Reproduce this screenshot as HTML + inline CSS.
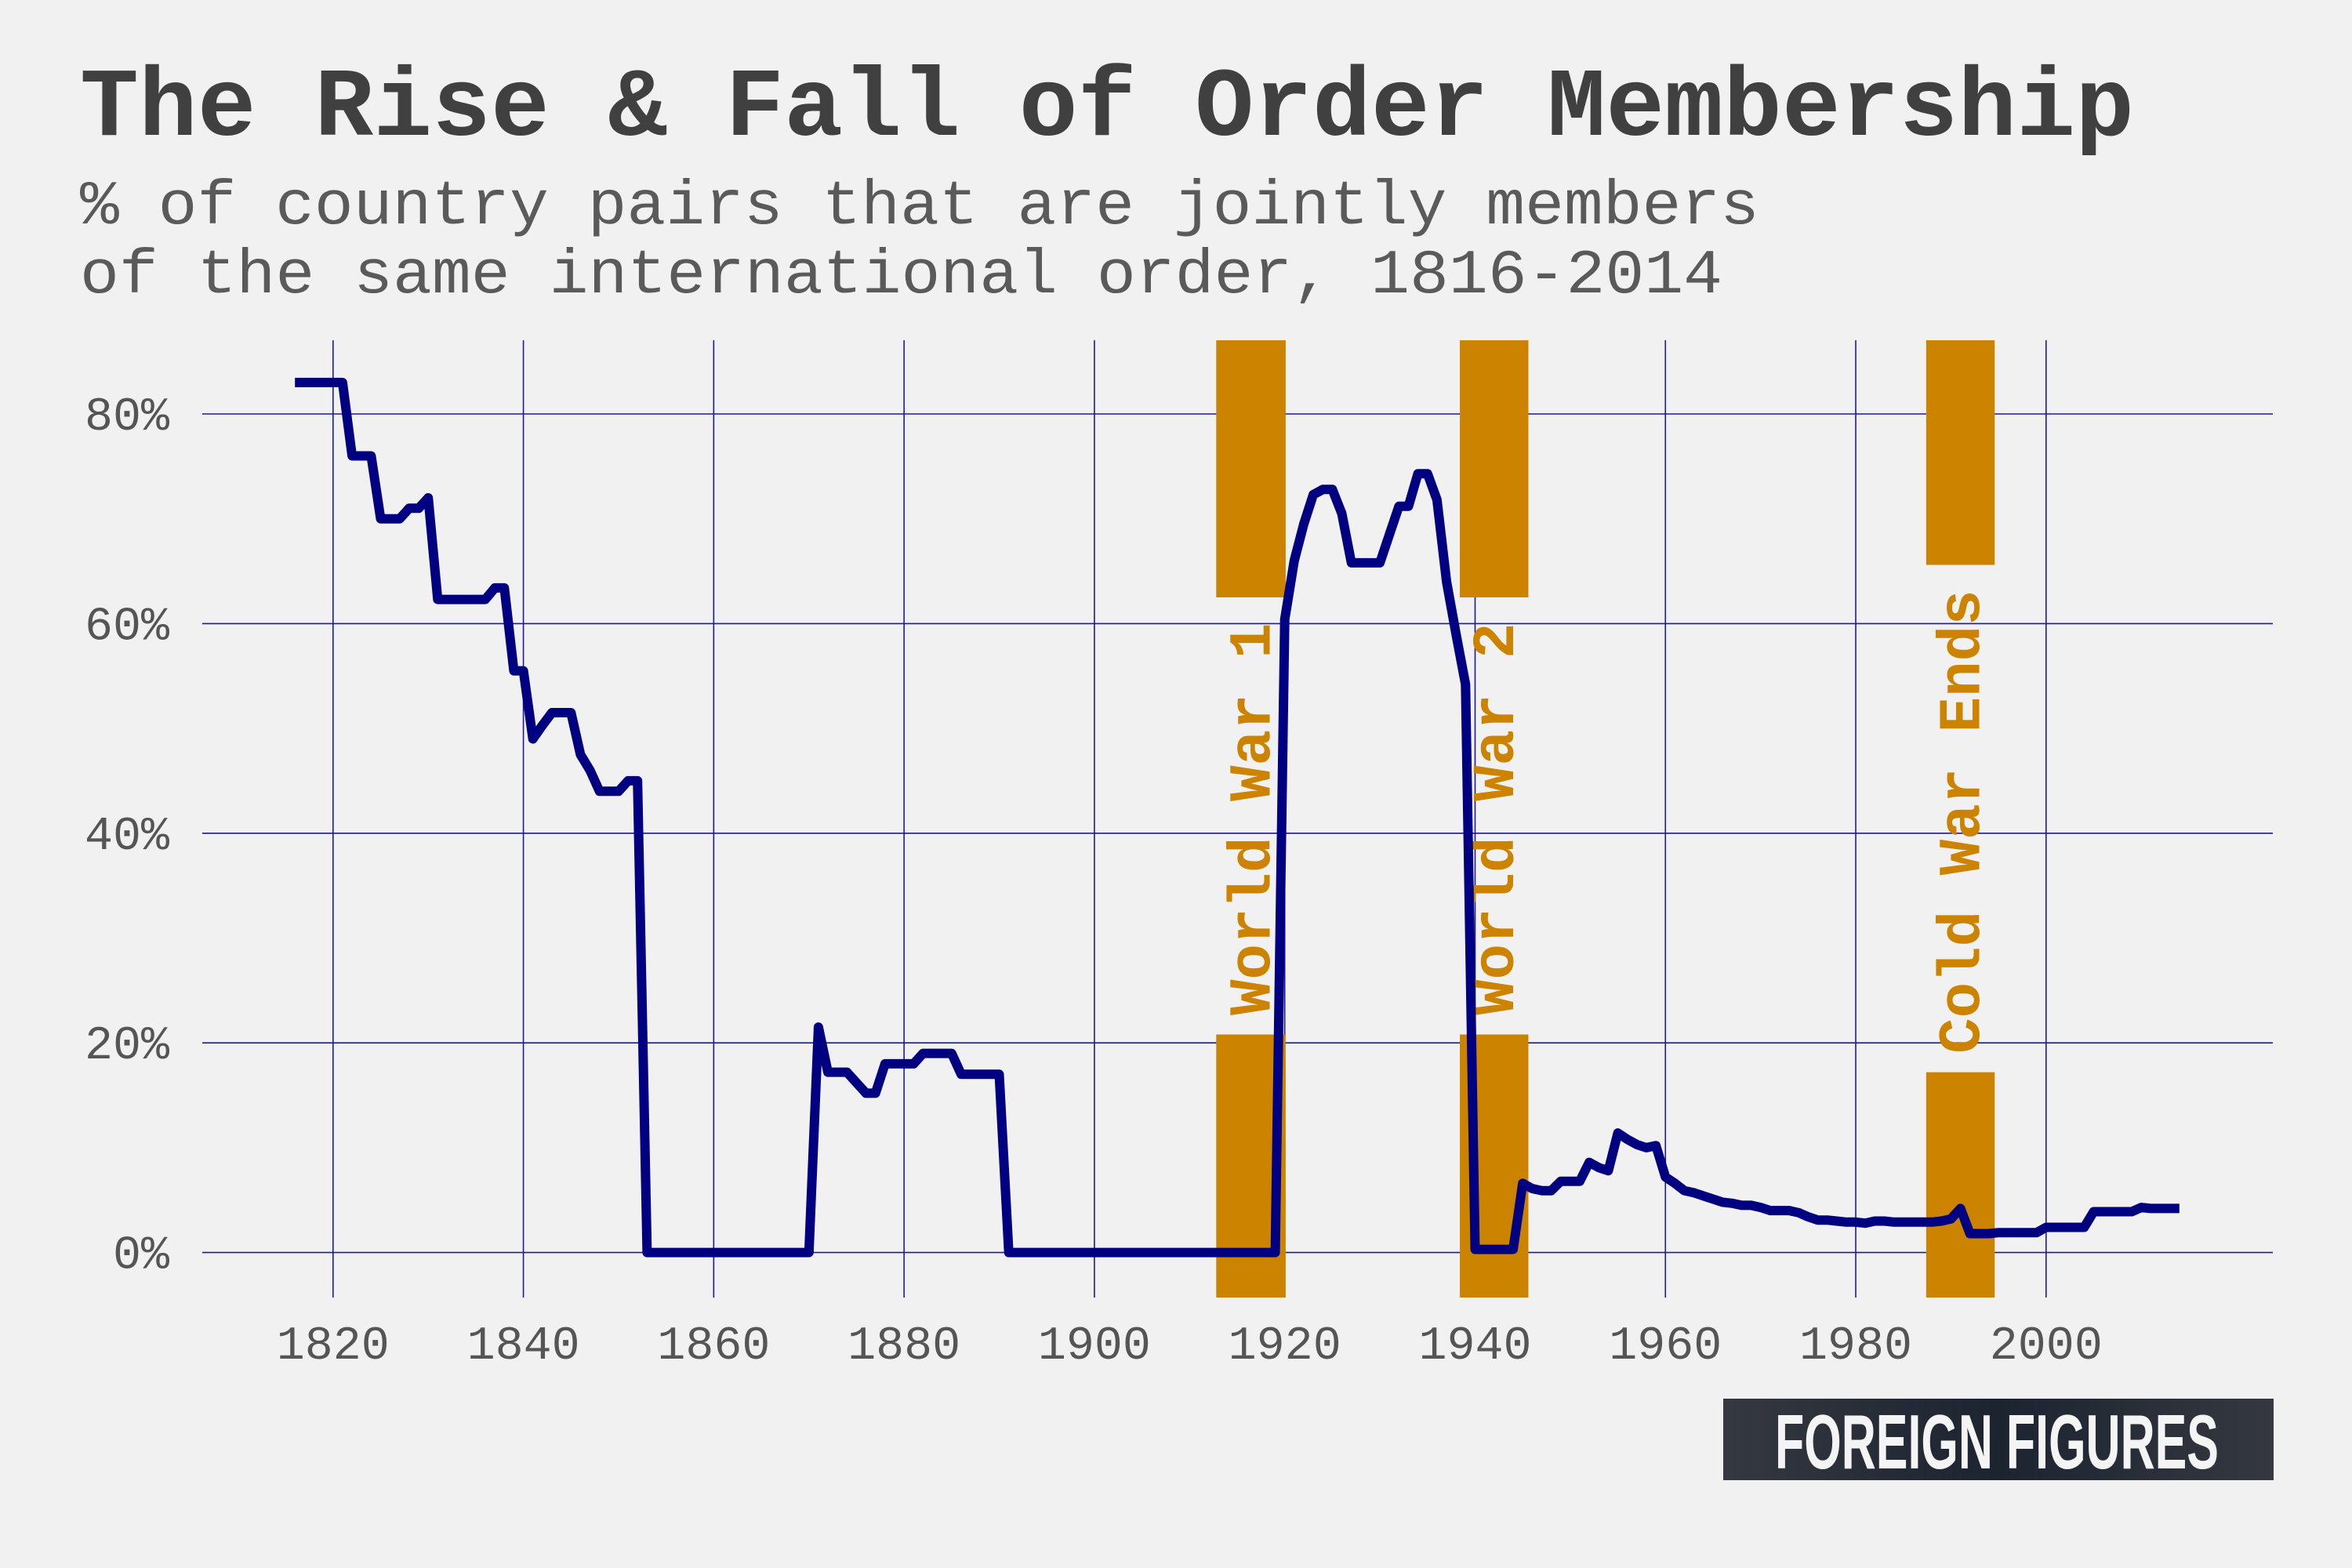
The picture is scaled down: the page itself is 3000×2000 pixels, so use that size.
<!DOCTYPE html>
<html><head><meta charset="utf-8"><style>
html,body{margin:0;padding:0;background:#f1f1f1}
svg{display:block}
text{font-family:"Liberation Mono",monospace}
</style></head><body>
<svg id="chart" width="3000" height="2000" viewBox="0 0 3000 2000" xmlns="http://www.w3.org/2000/svg">
<rect x="0" y="0" width="3000" height="2000" fill="#f1f1f1"/>
<text x="102" y="172" font-size="124" font-weight="bold" fill="#404040" textLength="2620" lengthAdjust="spacingAndGlyphs">The Rise &amp; Fall of Order Membership</text>
<text x="102" y="285" font-size="80" fill="#5a5a5a" textLength="2142" lengthAdjust="spacingAndGlyphs">% of country pairs that are jointly members</text>
<text x="102" y="373" font-size="80" fill="#5a5a5a" textLength="2095" lengthAdjust="spacingAndGlyphs">of the same international order, 1816-2014</text>
<g id="grid"></g>
<g id="bands"></g>
<g id="series"></g>
<g id="axes"></g>
<g>
<defs><linearGradient id="lg" x1="0" y1="0" x2="1" y2="0"><stop offset="0" stop-color="#353840"/><stop offset="0.5" stop-color="#1c2430"/><stop offset="1" stop-color="#353840"/></linearGradient></defs>
<rect x="2198" y="1784" width="702" height="104" fill="url(#lg)"/>
<text x="2264" y="1873" font-size="98" font-weight="bold" fill="#f4f4f4" style="font-family:'Liberation Sans Narrow','Liberation Sans',sans-serif" textLength="566" lengthAdjust="spacingAndGlyphs">FOREIGN FIGURES</text>
</g>
</svg>
<script>
const years = [];
for (let y = 1816; y <= 2014; y++) years.push(y);
const values = [
83,83,83,83,83,83,76,76,76,70,70,70,71,71,72,62.3,62.3,62.3,62.3,62.3,62.3,63.4,63.4,55.5,55.5,49.0,50.3,51.5,51.5,51.5,47.5,46,44,44,44,45,45,
0,0,0,0,0,0,0,0,0,0,0,0,0,0,0,0,0,0,
21.5,17.2,17.2,17.2,16.2,15.2,15.2,18,18,18,18,19,19,19,19,17,17,17,17,17,
0,0,0,0,0,0,0,0,0,0,0,0,0,0,0,0,0,0,0,0,0,0,0,0,0,0,0,0,0,
60.4,66,69.5,72.3,72.8,72.8,70.5,65.8,65.8,65.8,65.8,68.5,71.2,71.2,74.3,74.3,71.8,64,59,54.2,
0.3,0.3,0.3,0.3,0.3,6.6,6.1,5.9,5.9,6.8,6.8,6.8,8.6,8.1,7.8,11.4,10.8,10.3,10.0,10.2,
7.2,6.6,5.9,5.7,5.4,5.1,4.8,4.7,4.5,4.5,4.3,4.0,4.0,4.0,3.8,3.4,3.1,3.1,3.0,2.9,
2.9,2.8,3.0,3.0,2.9,2.9,2.9,2.9,2.9,3.0,3.2,4.2,1.8,1.8,1.8,1.9,1.9,1.9,1.9,1.9,
2.4,2.4,2.4,2.4,2.4,3.9,3.9,3.9,3.9,3.9,4.3,4.2,4.2,4.2,4.2
];
const xTicks = [1820,1840,1860,1880,1900,1920,1940,1960,1980,2000];
const yTicks = [0,20,40,60,80];
const yTickLabels = ["0%","20%","40%","60%","80%"];
const eventLabels = ["World War 1","World War 2","Cold War Ends"];
const eventStart = [1912.8,1938.4,1987.4];
const eventEnd = [1920.1,1945.6,1994.6];
const eventTop = [62.5,62.5,65.6];
const eventBottom = [20.8,20.8,17.2];

const NS = "http://www.w3.org/2000/svg";
const x = yr => 424.8 + (yr - 1820) * 12.139;
const y = v => 1597.6 - v * 13.37;
const plotL = 258, plotR = 2899, plotT = 434, plotB = 1655;
function mk(tag, attrs, parent) {
  const e = document.createElementNS(NS, tag);
  for (const k in attrs) e.setAttribute(k, attrs[k]);
  parent.appendChild(e);
  return e;
}
const grid = document.getElementById('grid');
const axes = document.getElementById('axes');
xTicks.forEach(t => {
  const l = mk('line', {x1: x(t), x2: x(t), y1: plotT, y2: plotB, stroke: '#1a1a9a', 'stroke-width': 1.6}, grid);
  
  
  const tx = mk('text', {x: x(t), y: 1733, 'font-size': 60, fill: '#555', 'text-anchor': 'middle'}, axes);
  tx.textContent = String(t);
  
  
});
yTicks.forEach((t, i) => {
  const l = mk('line', {x1: plotL, x2: plotR, y1: y(t), y2: y(t), stroke: '#1a1a9a', 'stroke-width': 1.6}, grid);
  
  
  const tx = mk('text', {x: 216, y: y(t) + 20, 'font-size': 60, fill: '#555', 'text-anchor': 'end'}, axes);
  tx.textContent = yTickLabels[i];
  
  
});
const bands = document.getElementById('bands');
eventLabels.forEach((lab, i) => {
  const x0 = x(eventStart[i]), x1 = x(eventEnd[i]);
  const r1 = mk('rect', {x: x0, y: plotT, width: x1 - x0, height: y(eventTop[i]) - plotT, fill: '#cc8400'}, bands);
  
  
  const r2 = mk('rect', {x: x0, y: y(eventBottom[i]), width: x1 - x0, height: plotB - y(eventBottom[i]), fill: '#cc8400'}, bands);
  
  
  const cx = (x0 + x1) / 2, cy = (y(eventTop[i]) + y(eventBottom[i])) / 2 + 4;
  const tx = mk('text', {x: cx + 24, y: cy, 'font-size': 76, 'font-weight': 'bold', fill: '#cc8400', 'text-anchor': 'middle', textLength: lab.length * 45.5, lengthAdjust: 'spacingAndGlyphs', transform: 'rotate(-90 ' + (cx + 24) + ' ' + cy + ')'}, bands);
  tx.textContent = lab;
  
  
});
const series = document.getElementById('series');
const d = years.map((yr, i) => (i ? 'L' : 'M') + x(yr).toFixed(1) + ',' + y(values[i]).toFixed(1)).join(' ');
const p = mk('path', {d: d, fill: 'none', stroke: '#000080', 'stroke-width': 12, 'stroke-linejoin': 'round'}, series);


</script>
</body></html>
